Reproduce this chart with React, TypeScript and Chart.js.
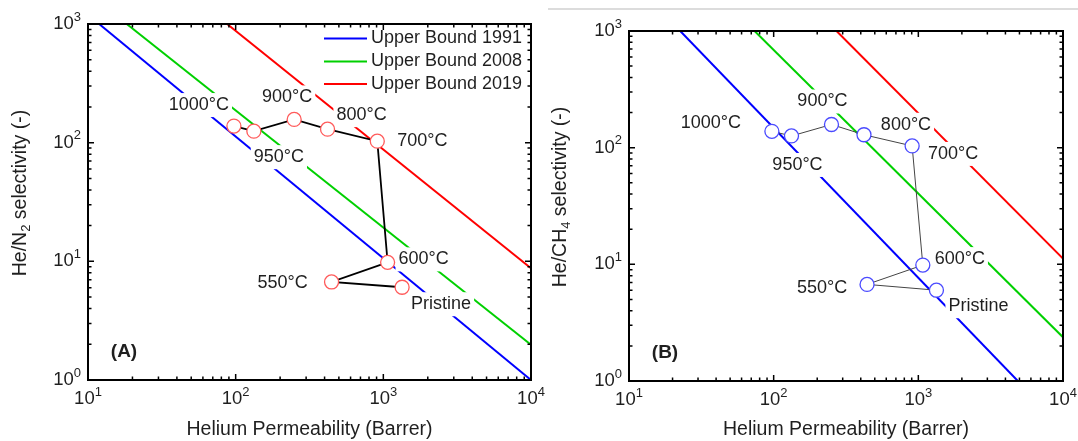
import React, { useEffect, useRef } from 'react';
import { Chart, registerables } from 'chart.js';

Chart.register(...registerables);

// ---------------- data ----------------
const sampleLabels = ['1000°C', '950°C', '900°C', '800°C', '700°C', '600°C', '550°C', 'Pristine'];

const hePermeabilityN2 = [97.3, 132.8, 249, 419, 910, 1069, 446, 1340];
const heN2Selectivity = [138, 125, 157, 130, 103, 9.8, 6.7, 6.05];

const hePermeabilityCH4 = [97.2, 132.8, 251, 421, 906, 1074, 442, 1334];
const heCH4Selectivity = [138, 126, 158, 129, 103.5, 9.85, 6.73, 6.0];

const boundLabels = ['Upper Bound 1991', 'Upper Bound 2008', 'Upper Bound 2019'];
const n2BoundPermeability = [[11.9, 10000], [18.3, 10000], [87.5, 10000]];
const n2BoundSelectivity = [[1000, 1], [1000, 1.98], [1000, 8.75]];
const ch4BoundPermeability = [[22.6, 4875], [73.8, 10000], [272, 10000]];
const ch4BoundSelectivity = [[1000, 1], [1000, 2.37], [1000, 11.2]];

const xTickValues = [10, 100, 1000, 10000];
const yTickValues = [1, 10, 100, 1000];

const xTitle = 'Helium Permeability (Barrer)';

// ---------------- styling / layout ----------------
const FONT = '"Liberation Sans", Arial, Helvetica, sans-serif';
const TEXT = '#1f1f1f';
const boundColors = ['#0000ff', '#00d000', '#ff0000'];

type Part = { t: string; size: number; dy: number; bold?: boolean };

function fontStr(size: number, bold?: boolean) {
  return `${bold ? 'bold ' : ''}${size}px ${FONT}`;
}

function drawParts(ctx: CanvasRenderingContext2D, parts: Part[], x: number, y: number, align: 'left' | 'center' | 'right') {
  const widths = parts.map((p) => {
    ctx.font = fontStr(p.size, p.bold);
    return ctx.measureText(p.t).width;
  });
  const total = widths.reduce((a, b) => a + b, 0);
  let cx = align === 'left' ? x : align === 'center' ? x - total / 2 : x - total;
  ctx.textAlign = 'left';
  ctx.textBaseline = 'middle';
  parts.forEach((p, i) => {
    ctx.font = fontStr(p.size, p.bold);
    ctx.fillText(p.t, cx, y + p.dy);
    cx += widths[i];
  });
}

type PanelCfg = {
  key: string;
  canvasLeft: number;
  canvasWidth: number;
  padding: { left: number; right: number; top: number; bottom: number };
  perm: number[];
  sel: number[];
  boundX: number[][];
  boundY: number[][];
  pointColor: string;
  linkColor: string;
  linkWidth: number;
  yTitleMain: string;
  yTitleSub: string;
  labelOffsets: number[][];
  legend: boolean;
  letter: string;
};

function makePlugin(cfg: PanelCfg) {
  return {
    id: 'decor_' + cfg.key,
    beforeDatasetDraw(chart: any, args: any) {
      if (args.index !== 0) return;
      const ctx: CanvasRenderingContext2D = chart.ctx;
      const xs = chart.scales.x;
      const ys = chart.scales.y;
      ctx.save();
      ctx.font = fontStr(18);
      sampleLabels.forEach((lab, i) => {
        const px = xs.getPixelForValue(cfg.perm[i]) + cfg.labelOffsets[i][0];
        const py = ys.getPixelForValue(cfg.sel[i]) + cfg.labelOffsets[i][1];
        const w = ctx.measureText(lab).width;
        ctx.fillStyle = '#ffffff';
        ctx.fillRect(px - w / 2 - 3, py - 12, w + 6, 24);
        ctx.fillStyle = TEXT;
        ctx.textAlign = 'center';
        ctx.textBaseline = 'middle';
        ctx.fillText(lab, px, py);
      });
      ctx.restore();
    },
    afterDraw(chart: any) {
      const ctx: CanvasRenderingContext2D = chart.ctx;
      const a = chart.chartArea;
      const xs = chart.scales.x;
      const ys = chart.scales.y;
      ctx.save();
      // ticks
      ctx.strokeStyle = '#000';
      ctx.lineWidth = 1.5;
      const major = 6;
      const minor = 3.5;
      for (let k = 1; k <= 4; k++) {
        for (let m = 1; m <= 9; m++) {
          const v = m * Math.pow(10, k);
          if (v > 10000) break;
          const px = xs.getPixelForValue(v);
          const len = m === 1 ? major : minor;
          ctx.beginPath();
          ctx.moveTo(px, a.bottom);
          ctx.lineTo(px, a.bottom - len);
          ctx.moveTo(px, a.top);
          ctx.lineTo(px, a.top + len);
          ctx.stroke();
        }
      }
      for (let k = 0; k <= 3; k++) {
        for (let m = 1; m <= 9; m++) {
          const v = m * Math.pow(10, k);
          if (v > 1000) break;
          const py = ys.getPixelForValue(v);
          const len = m === 1 ? major : minor;
          ctx.beginPath();
          ctx.moveTo(a.left, py);
          ctx.lineTo(a.left + len, py);
          ctx.moveTo(a.right, py);
          ctx.lineTo(a.right - len, py);
          ctx.stroke();
        }
      }
      // frame
      ctx.lineWidth = 2;
      ctx.strokeRect(a.left, a.top, a.right - a.left, a.bottom - a.top);

      // tick labels
      ctx.fillStyle = TEXT;
      xTickValues.forEach((v) => {
        const exp = Math.round(Math.log10(v));
        drawParts(ctx, [{ t: '10', size: 18.5, dy: 0 }, { t: String(exp), size: 13, dy: -7 }], xs.getPixelForValue(v), a.bottom + 19, 'center');
      });
      yTickValues.forEach((v) => {
        const exp = Math.round(Math.log10(v));
        drawParts(ctx, [{ t: '10', size: 18.5, dy: 0 }, { t: String(exp), size: 13, dy: -7 }], a.left - 7, ys.getPixelForValue(v), 'right');
      });

      // x title
      drawParts(ctx, [{ t: xTitle, size: 19.5, dy: 0 }], (a.left + a.right) / 2, 430, 'center');
      // y title
      ctx.save();
      ctx.translate(21, (a.top + a.bottom) / 2 - 9);
      ctx.rotate(-Math.PI / 2);
      drawParts(ctx, [
        { t: cfg.yTitleMain, size: 19.5, dy: 0 },
        { t: cfg.yTitleSub, size: 13, dy: 5 },
        { t: ' selectivity (-)', size: 19.5, dy: 0 },
      ], 0, 0, 'center');
      ctx.restore();

      // panel letter
      drawParts(ctx, [{ t: cfg.letter, size: 19, dy: 0, bold: true }], a.left + 36, a.bottom - 28, 'center');

      // legend
      if (cfg.legend) {
        const rows = [14.5, 37.5, 60];
        boundLabels.forEach((name, k) => {
          const y = a.top + rows[k];
          ctx.strokeStyle = boundColors[k];
          ctx.lineWidth = 2;
          ctx.beginPath();
          ctx.moveTo(a.right - 207, y);
          ctx.lineTo(a.right - 164, y);
          ctx.stroke();
          ctx.fillStyle = TEXT;
          drawParts(ctx, [{ t: name, size: 18, dy: 0 }], a.right - 160, y, 'left');
        });
      }
      ctx.restore();
    },
  };
}

const panelA: PanelCfg = {
  key: 'A',
  canvasLeft: 0,
  canvasWidth: 560,
  padding: { left: 88, right: 29, top: 24, bottom: 61 },
  perm: hePermeabilityN2,
  sel: heN2Selectivity,
  boundX: n2BoundPermeability,
  boundY: n2BoundSelectivity,
  pointColor: '#ff5a5a',
  linkColor: '#000000',
  linkWidth: 1.8,
  yTitleMain: 'He/N',
  yTitleSub: '2',
  labelOffsets: [[-35, -21], [25, 26], [-7, -22], [34, -14], [45, 0], [36, -3], [-49, 1], [39, 17]],
  legend: true,
  letter: '(A)',
};

const panelB: PanelCfg = {
  key: 'B',
  canvasLeft: 540,
  canvasWidth: 538,
  padding: { left: 89, right: 15, top: 31, bottom: 60 },
  perm: hePermeabilityCH4,
  sel: heCH4Selectivity,
  boundX: ch4BoundPermeability,
  boundY: ch4BoundSelectivity,
  pointColor: '#4a4aff',
  linkColor: '#444444',
  linkWidth: 1,
  yTitleMain: 'He/CH',
  yTitleSub: '4',
  labelOffsets: [[-61, -8], [6, 29], [-9, -23], [42, -10], [41, 8], [37, -6], [-45, 4], [42, 16]],
  legend: false,
  letter: '(B)',
};

function Panel({ cfg }: { cfg: PanelCfg }) {
  const ref = useRef<HTMLCanvasElement>(null);
  useEffect(() => {
    const canvas = ref.current;
    if (!canvas) return;
    const datasets: any[] = [
      {
        label: 'samples',
        data: cfg.perm.map((x, i) => ({ x, y: cfg.sel[i] })),
        showLine: true,
        borderColor: cfg.linkColor,
        borderWidth: cfg.linkWidth,
        pointRadius: 7,
        pointHoverRadius: 7,
        pointBorderColor: cfg.pointColor,
        pointBackgroundColor: '#ffffff',
        pointBorderWidth: 1.3,
      },
      ...boundLabels.map((name, k) => ({
        label: name,
        data: cfg.boundX[k].map((x, j) => ({ x, y: cfg.boundY[k][j] })),
        showLine: true,
        borderColor: boundColors[k],
        borderWidth: 2,
        pointRadius: 0,
        pointHoverRadius: 0,
      })),
    ];
    const chart = new Chart(canvas, {
      type: 'scatter',
      data: { datasets },
      options: {
        responsive: false,
        animation: false,
        devicePixelRatio: 1,
        layout: { padding: cfg.padding },
        plugins: { legend: { display: false }, tooltip: { enabled: false } },
        events: [],
        scales: {
          x: { type: 'logarithmic', min: 10, max: 10000, display: false },
          y: { type: 'logarithmic', min: 1, max: 1000, display: false },
        },
      } as any,
      plugins: [makePlugin(cfg) as any],
    });
    return () => chart.destroy();
  }, [cfg]);
  return (
    <canvas
      ref={ref}
      width={cfg.canvasWidth}
      height={441}
      style={{ position: 'absolute', left: cfg.canvasLeft, top: 0, width: cfg.canvasWidth, height: 441 }}
    />
  );
}

export default function App() {
  return (
    <div style={{ position: 'fixed', left: 0, top: 0, width: 1078, height: 441, background: '#ffffff', overflow: 'hidden' }}>
      <div style={{ position: 'absolute', left: 548, top: 8, width: 530, height: 2, background: '#dcdcdc' }} />
      <Panel cfg={panelA} />
      <Panel cfg={panelB} />
    </div>
  );
}
